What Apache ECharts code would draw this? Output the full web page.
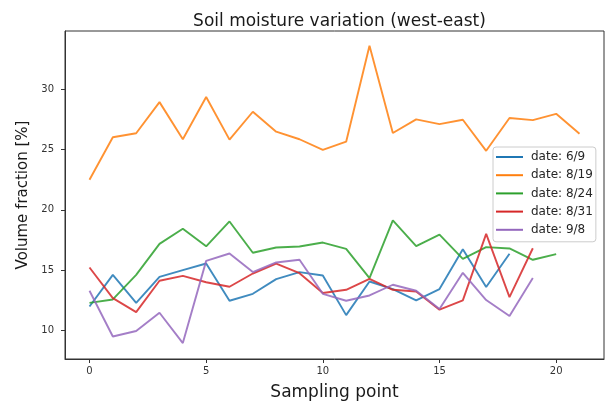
<!DOCTYPE html>
<html>
<head>
<meta charset="utf-8">
<script src="https://cdn.jsdelivr.net/npm/echarts@6/dist/echarts.min.js"></script>
<style>
  html, body { margin: 0; padding: 0; background: #fff; }
  #chart { width: 607px; height: 406px; }
</style>
</head>
<body>
<div id="chart"></div>
<script>
// Volume fraction [%] measured at each sampling point, one list per date
const d_6_9  = [11.99, 14.61, 12.29, 14.45, 15.0, 15.55, 12.46, 13.04, 14.26, 14.84, 14.56,
                11.27, 14.06, 13.43, 12.49, 13.43, 16.74, 13.6, 16.36];
const d_8_19 = [22.5, 26.03, 26.36, 28.94, 25.86, 29.37, 25.83, 28.14, 26.49, 25.86, 24.98,
                25.66, 33.61, 26.38, 27.51, 27.12, 27.48, 24.9, 27.62, 27.45, 27.97, 26.32];
const d_8_24 = [12.29, 12.57, 14.61, 17.18, 18.44, 16.98, 19.04, 16.44, 16.88, 16.96, 17.29,
                16.77, 14.34, 19.13, 17.0, 17.95, 15.94, 16.91, 16.8, 15.86, 16.33];
const d_8_31 = [15.22, 12.68, 11.52, 14.12, 14.53, 14.0, 13.62, 14.72, 15.55, 14.75, 13.1,
                13.37, 14.28, 13.37, 13.23, 11.72, 12.49, 18.01, 12.76, 16.82];
const d_9_8  = [13.29, 9.5, 9.95, 11.47, 8.95, 15.77, 16.38, 14.84, 15.64, 15.86, 13.04,
                12.46, 12.9, 13.79, 13.29, 11.77, 14.78, 12.52, 11.19, 14.34];

const seriesNames = ['date: 6/9', 'date: 8/19', 'date: 8/24', 'date: 8/31', 'date: 9/8'];
const seriesValues = [d_6_9, d_8_19, d_8_24, d_8_31, d_9_8];
const colors = ['#1f77b4', '#ff7f0e', '#2ca02c', '#d62728', '#9467bd'];

const xTicks = [0, 5, 10, 15, 20];
const yTicks = [10, 15, 20, 25, 30];

const FONT = 'DejaVu Sans';

const chart = echarts.init(document.getElementById('chart'), null, { renderer: 'canvas' });

chart.setOption({
  animation: false,
  backgroundColor: '#ffffff',
  color: colors,
  title: {
    text: 'Soil moisture variation (west-east)',
    left: 334.5,
    textAlign: 'center',
    top: 8,
    textStyle: { fontFamily: FONT, fontSize: 17, fontWeight: 'normal', color: '#1a1a1a' }
  },
  grid: {
    left: 65, right: 3, top: 31, bottom: 47,
    show: true, borderColor: '#333', borderWidth: 1, backgroundColor: 'transparent'
  },
  legend: {
    orient: 'vertical',
    left: 493, top: 147,
    padding: [3, 3, 5, 3],
    itemWidth: 27, itemHeight: 2,
    itemGap: 4.2,
    icon: 'rect',
    backgroundColor: 'rgba(255,255,255,0.8)',
    borderColor: '#cccccc', borderWidth: 1, borderRadius: 3,
    textStyle: { fontFamily: FONT, fontSize: 12, color: '#262626', lineHeight: 14, padding: [0, 0, 0, 3] },
    data: seriesNames
  },
  xAxis: {
    type: 'value',
    min: -1.05, max: 22.05,
    name: 'Sampling point',
    nameLocation: 'middle',
    nameGap: 25,
    nameTextStyle: { fontFamily: FONT, fontSize: 17, color: '#1a1a1a' },
    axisLine: { show: true, onZero: false, lineStyle: { color: '#333', width: 1 } },
    axisTick: { show: true, length: 4, customValues: xTicks, lineStyle: { color: '#333' } },
    axisLabel: { customValues: xTicks, margin: 7, fontFamily: FONT, fontSize: 10, color: '#333' },
    splitLine: { show: false }
  },
  yAxis: {
    type: 'value',
    min: 7.63, max: 34.84,
    name: 'Volume fraction [%]',
    nameLocation: 'middle',
    nameRotate: 90,
    nameGap: 33,
    nameTextStyle: { fontFamily: FONT, fontSize: 15, color: '#1a1a1a' },
    axisLine: { show: true, onZero: false, lineStyle: { color: '#333', width: 1 } },
    axisTick: { show: true, length: 4, customValues: yTicks, lineStyle: { color: '#333' } },
    axisLabel: { customValues: yTicks, margin: 11, fontFamily: FONT, fontSize: 10, color: '#333' },
    splitLine: { show: false }
  },
  series: seriesValues.map((vals, k) => ({
    name: seriesNames[k],
    type: 'line',
    data: vals.map((v, i) => [i, v]),
    showSymbol: false,
    symbol: 'none',
    lineStyle: { width: 1.9, color: colors[k], opacity: 0.85 },
    itemStyle: { color: colors[k] },
    emphasis: { disabled: true }
  }))
});
</script>
</body>
</html>
